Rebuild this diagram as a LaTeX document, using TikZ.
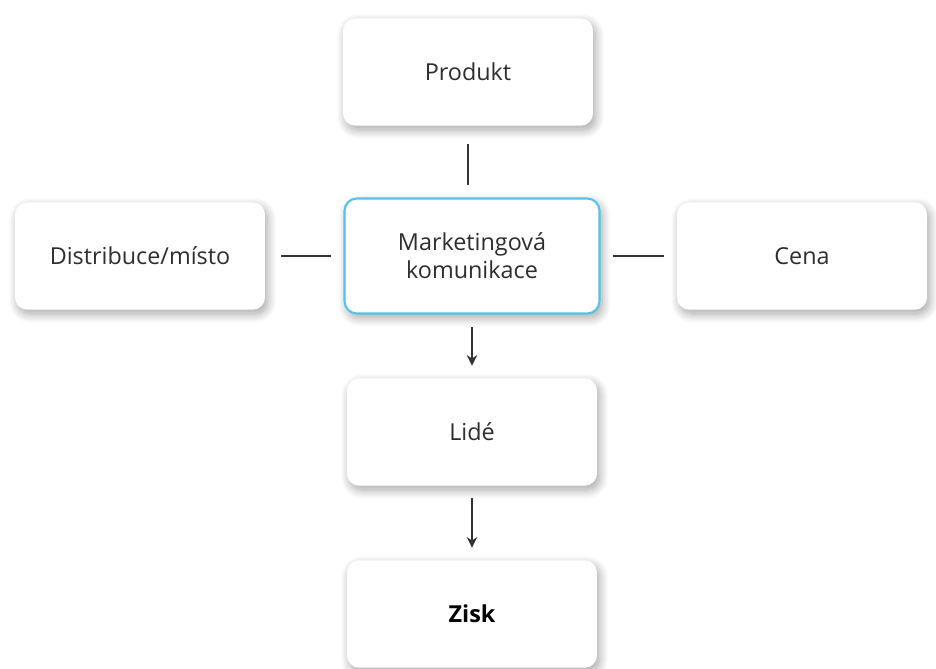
\documentclass[tikz,border=0pt]{standalone}
\usepackage{fontspec}
\setmainfont{Open Sans}
\usetikzlibrary{arrows.meta,shadows.blur}
\definecolor{boxtext}{HTML}{2E2E2E}
\definecolor{mkblue}{HTML}{55C3E6}
\begin{document}
\begin{tikzpicture}[x=0.02cm, y=-0.02cm,
    box/.style = {fill=white, rounded corners=7pt, align=center, text=boxtext,
        font=\fontsize{13.3}{16}\selectfont,
        minimum width=5cm, minimum height=2.15cm,
        blur shadow={shadow xshift=1.5pt, shadow yshift=-2.5pt, shadow blur steps=12, shadow blur radius=5pt, shadow opacity=35}},
    link/.style = {draw=black!80, line width=0.8pt, shorten >=7pt, shorten <=7pt}]
        \useasboundingbox (0,0) rectangle (936,669);

        \node[box] (produkt) at (468, 72) {Produkt};
        \node[box] (misto) at (140, 256) {Distribuce/místo};
        \node[box, draw=mkblue, line width=1.2pt, minimum width=5.1cm, minimum height=2.3cm] (komunikace) at (472, 256) {Marketingová\\komunikace};
        \node[box] (cena) at (802, 256) {Cena};
        \node[box] (lide) at (472, 432) {Lidé};
        \node[box, font=\fontsize{13.3}{16}\selectfont\bfseries, text=black] (zisk) at (472, 614) {Zisk};

        \draw[link, shorten <=10pt] (produkt) -- (produkt |- komunikace.north);
        \draw[link, shorten <=9pt] (misto) -- (komunikace);
        \draw[link] (komunikace) -- (cena);

        \draw[link, ->, >={Stealth[length=6pt, width=6pt]}] (komunikace) -- (lide);
        \draw[link, ->, >={Stealth[length=6pt, width=6pt]}] (lide) -- (zisk);
    \end{tikzpicture}
\end{document}
